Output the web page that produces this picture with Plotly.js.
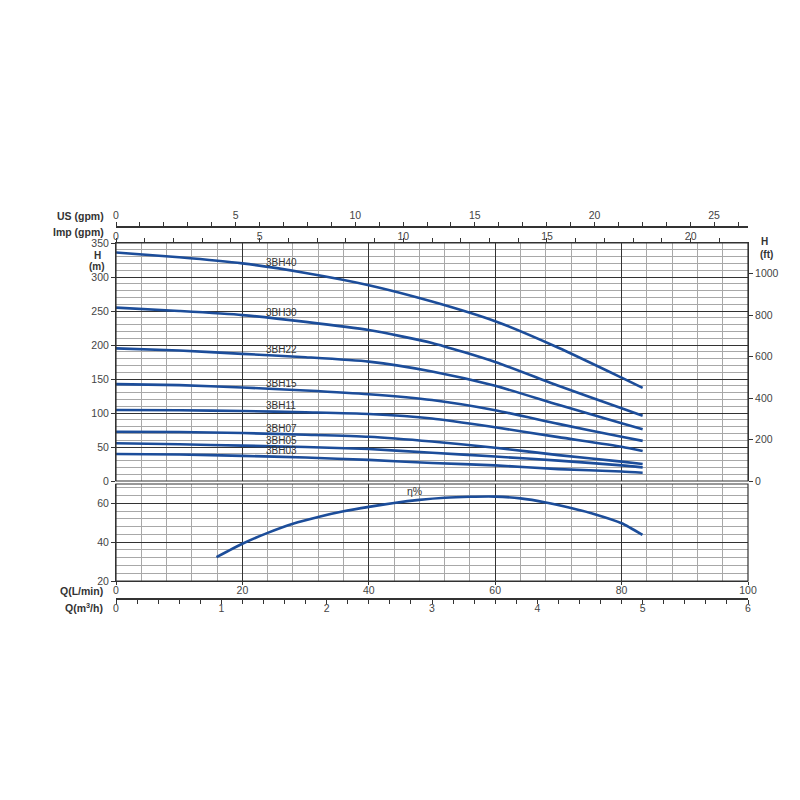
<!DOCTYPE html>
<html>
<head>
<meta charset="utf-8">
<script src="https://cdn.plot.ly/plotly-3.0.1.min.js"></script>
<style>html,body{margin:0;padding:0;background:#fff;}#chart{width:800px;height:800px;}</style>
</head>
<body>
<div id="chart"></div>
<script>
// ---- data ----
const Q_LPM = [0, 10, 20, 30, 40, 50, 60, 70, 80, 83.33];
const SERIES_NAMES = ['3BH40', '3BH30', '3BH22', '3BH15', '3BH11', '3BH07', '3BH05', '3BH03'];
const H_3BH40 = [336, 329, 320, 306, 288, 264, 235, 196, 152, 137];
const H_3BH30 = [255, 250, 244, 234, 222, 203, 175, 140, 107, 96];
const H_3BH22 = [195, 192, 187, 182, 175.5, 161, 140, 112, 85, 76];
const H_3BH15 = [142.5, 141, 137.5, 133, 127.5, 119, 104, 84, 65, 59];
const H_3BH11 = [104.5, 104, 103, 101, 98.5, 92, 79, 64.5, 50.5, 44];
const H_3BH07 = [72.5, 72, 70.5, 68, 65, 58, 49, 38, 28.5, 25];
const H_3BH05 = [55.5, 54, 52, 50, 47, 41.5, 36, 30, 23, 20];
const H_3BH03 = [39.7, 39, 37, 34.5, 31, 26.5, 23, 17.5, 14, 12.2];
const H_ALL = [H_3BH40, H_3BH30, H_3BH22, H_3BH15, H_3BH11, H_3BH07, H_3BH05, H_3BH03];

const Q_EFF = [15.9, 20, 24, 28, 32, 36, 40, 44, 48, 52, 56, 60, 64, 68, 72, 76, 80, 83.3];
const ETA = [32.3, 39.2, 44.8, 49.5, 53.0, 55.9, 58.2, 60.2, 61.8, 62.9, 63.4, 63.5, 62.6, 60.5, 57.6, 54.2, 49.8, 43.8];

const H_TICKS_M = [0, 50, 100, 150, 200, 250, 300, 350];
const H_TICKS_FT = [0, 200, 400, 600, 800, 1000];
const ETA_TICKS = [20, 40, 60];
const Q_TICKS = [0, 20, 40, 60, 80, 100];
const M3H_TICKS = [0, 1, 2, 3, 4, 5, 6];
const US_TICKS = [0, 5, 10, 15, 20, 25];
const IMP_TICKS = [0, 5, 10, 15, 20];

// unit conversions
const M_TO_FT = 3.28084;
const L_PER_USGAL = 3.78541;
const L_PER_IMPGAL = 4.54609;
const LPM_PER_M3H = 1000 / 60;

// ---- styling ----
const BLUE = '#1c4d9a';
const DARK = '#333333';
const MINOR = '#a8a8a8';
const FONT = 'Liberation Sans, Arial, sans-serif';
const TXT = '#444444';

function interp(xs, ys, x) {
  for (let i = 0; i < xs.length - 1; i++) {
    if (x >= xs[i] && x <= xs[i + 1]) {
      const t = (x - xs[i]) / (xs[i + 1] - xs[i]);
      return ys[i] + t * (ys[i + 1] - ys[i]);
    }
  }
  return ys[ys.length - 1];
}

const lineStyle = {color: BLUE, width: 2.6, shape: 'spline', smoothing: 0.6};
const traces = [];
H_ALL.forEach((h, i) => {
  traces.push({
    type: 'scatter', mode: 'lines', name: SERIES_NAMES[i],
    x: Q_LPM, y: h, xaxis: 'x', yaxis: 'y', line: lineStyle
  });
});
traces.push({
  type: 'scatter', mode: 'lines', name: 'η%',
  x: Q_EFF, y: ETA, xaxis: 'x', yaxis: 'y2', line: lineStyle
});

// the same curves in the secondary units (transparent, only so the
// secondary scales are drawn; they coincide with the visible curves)
const hidden = {color: 'rgba(0,0,0,0)', width: 0};
traces.push({type: 'scatter', mode: 'lines', hoverinfo: 'skip', line: hidden,
  x: Q_LPM.map(q => q / L_PER_IMPGAL), y: H_3BH40.map(h => h * M_TO_FT), xaxis: 'x2', yaxis: 'y3'});
traces.push({type: 'scatter', mode: 'lines', hoverinfo: 'skip', line: hidden,
  x: Q_LPM.map(q => q / L_PER_USGAL), y: H_3BH40, xaxis: 'x3', yaxis: 'y'});
traces.push({type: 'scatter', mode: 'lines', hoverinfo: 'skip', line: hidden,
  x: Q_EFF.map(q => q / LPM_PER_M3H), y: ETA, xaxis: 'x4', yaxis: 'y2'});

// geometry helpers (pixel -> paper)
const L = 116, R = 52, T = 226, B = 202;
const PW = 800 - L - R, PH = 800 - T - B;
const px = v => (v - L) / PW;
const py = v => (800 - B - v) / PH;

const annotations = [];
const LABEL_Q = 23.4, LABEL_QC = 25.6;
H_ALL.forEach((h, i) => {
  annotations.push({
    xref: 'x', yref: 'y', x: LABEL_Q, y: interp(Q_LPM, h, LABEL_QC),
    xanchor: 'left', yanchor: 'middle', yshift: 6, showarrow: false,
    text: SERIES_NAMES[i], font: {family: FONT, size: 10, color: DARK}
  });
});
annotations.push({
  xref: 'x', yref: 'y2', x: 47.2, y: interp(Q_EFF, ETA, 47.2),
  xanchor: 'center', yanchor: 'middle', yshift: 10, showarrow: false,
  text: 'η%', font: {family: FONT, size: 10.5, color: DARK}
});
const sideLabel = (text, x, y, xanchor, size) => ({
  xref: 'paper', yref: 'paper', x: px(x), y: py(y), xanchor: xanchor, yanchor: 'middle',
  showarrow: false, text: '<b>' + text + '</b>', font: {family: FONT, size: size || 10.5, color: DARK}
});
annotations.push(sideLabel('US (gpm)', 106, 216, 'right'));
annotations.push(sideLabel('Imp (gpm)', 106, 232, 'right'));
annotations.push(sideLabel('H', 97, 255, 'center', 10));
annotations.push(sideLabel('(m)', 97, 266, 'center', 10));
annotations.push(sideLabel('H', 764, 241, 'center', 10));
annotations.push(sideLabel('(ft)', 766, 254, 'center', 10));
annotations.push(sideLabel('Q(L/min)', 105, 591, 'right'));
annotations.push(sideLabel('Q(m<sup>3</sup>/h)', 105, 607, 'right'));

const tickFont = {family: FONT, size: 10.5, color: TXT};
const mainTop = py(243), mainBot = py(481);
const effTop = py(484), effBot = py(581);

const layout = {
  width: 800, height: 800,
  margin: {l: L, r: R, t: T, b: B, pad: 0},
  paper_bgcolor: '#ffffff', plot_bgcolor: 'rgba(0,0,0,0)',
  showlegend: false,
  font: {family: FONT, color: TXT},
  xaxis: {
    domain: [0, 1], range: [0, 100], anchor: 'y2',
    tickvals: Q_TICKS, ticks: 'outside', ticklen: 3, tickcolor: DARK, ticklabelstandoff: -4,
    showgrid: true, gridcolor: DARK, gridwidth: 1,
    minor: {dtick: 4, showgrid: true, gridcolor: MINOR, gridwidth: 1},
    showline: true, linecolor: DARK, linewidth: 1, zeroline: false,
    tickfont: tickFont, fixedrange: true
  },
  yaxis: {
    domain: [mainBot, mainTop], range: [0, 350], anchor: 'x',
    tickvals: H_TICKS_M, ticks: 'outside', ticklen: 4, tickcolor: DARK,
    showgrid: true, gridcolor: DARK, gridwidth: 1,
    minor: {dtick: 10, showgrid: true, gridcolor: MINOR, gridwidth: 1},
    showline: true, linecolor: DARK, zeroline: false,
    tickfont: tickFont, fixedrange: true
  },
  yaxis2: {
    domain: [effBot, effTop], range: [20, 70], anchor: 'x',
    tickvals: ETA_TICKS, ticks: 'outside', ticklen: 4, tickcolor: DARK,
    showgrid: true, gridcolor: DARK, gridwidth: 1,
    minor: {tick0: 20, dtick: 4, showgrid: true, gridcolor: MINOR, gridwidth: 1},
    showline: true, linecolor: DARK, zeroline: false,
    tickfont: tickFont, fixedrange: true
  },
  yaxis3: {
    overlaying: 'y', side: 'right', anchor: 'x',
    range: [0, 350 * M_TO_FT], tickvals: H_TICKS_FT,
    ticks: 'outside', ticklen: 4, tickcolor: DARK,
    showgrid: false, zeroline: false, showline: true, linecolor: DARK,
    tickfont: tickFont, fixedrange: true
  },
  xaxis2: {
    overlaying: 'x', anchor: 'y', side: 'top',
    range: [0, 100 / L_PER_IMPGAL], tickvals: IMP_TICKS,
    ticks: 'outside', ticklen: 4, tickcolor: DARK, ticklabelstandoff: -6,
    minor: {dtick: 1, ticks: 'outside', ticklen: 4, tickcolor: DARK, showgrid: false},
    showgrid: false, zeroline: false, showline: true, linecolor: DARK,
    tickfont: tickFont, fixedrange: true
  },
  xaxis3: {
    overlaying: 'x', anchor: 'free', position: 1, side: 'top',
    range: [0, 100 / L_PER_USGAL], tickvals: US_TICKS,
    ticks: 'outside', ticklen: 4, tickcolor: DARK, ticklabelstandoff: -1,
    minor: {dtick: 1, ticks: 'outside', ticklen: 4, tickcolor: DARK, showgrid: false},
    showgrid: false, zeroline: false, showline: true, linecolor: DARK, linewidth: 1.5,
    tickfont: tickFont, fixedrange: true
  },
  xaxis4: {
    overlaying: 'x', anchor: 'free', position: 0, side: 'bottom',
    range: [0, 6], tickvals: M3H_TICKS,
    ticks: 'outside', ticklen: 4, tickcolor: DARK, ticklabelstandoff: -4,
    minor: {dtick: 0.2, ticks: 'outside', ticklen: 4, tickcolor: DARK, showgrid: false},
    showgrid: false, zeroline: false, showline: true, linecolor: DARK, linewidth: 1.5,
    tickfont: tickFont, fixedrange: true
  },
  shapes: [
    {type: 'rect', xref: 'x domain', yref: 'y domain', x0: 0, x1: 1, y0: 0, y1: 1,
     line: {color: DARK, width: 1.2}, fillcolor: 'rgba(0,0,0,0)'},
    {type: 'rect', xref: 'x domain', yref: 'y2 domain', x0: 0, x1: 1, y0: 0, y1: 1,
     line: {color: DARK, width: 1.2}, fillcolor: 'rgba(0,0,0,0)'}
  ],
  annotations: annotations
};

Plotly.newPlot('chart', traces, layout, {staticPlot: true, displayModeBar: false});
</script>
</body>
</html>
